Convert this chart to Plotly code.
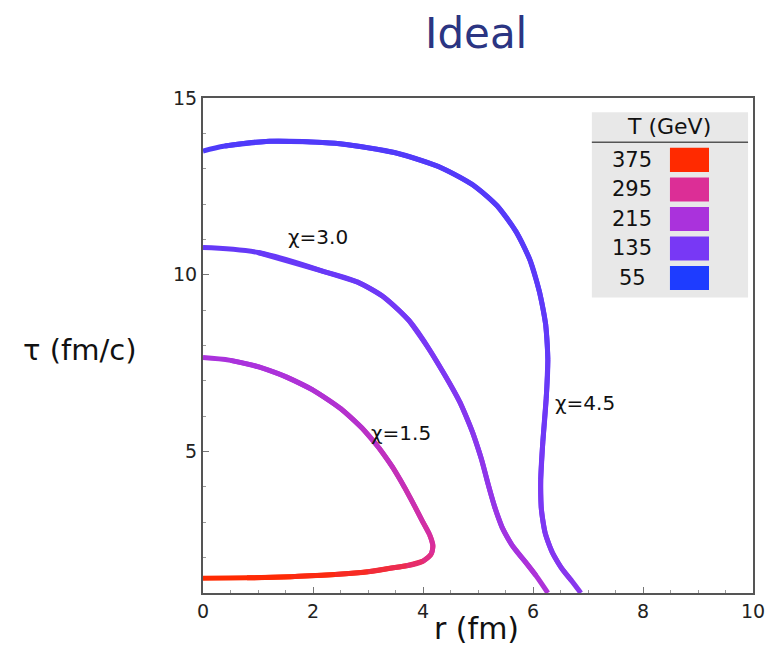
import plotly.graph_objects as go

# ---------------- data ----------------
legend_T = [375, 295, 215, 135, 55]
legend_colors = ["#ff2a00", "#dc2e96", "#aa32dc", "#7838f5", "#1e3cff"]

# chi = 1.5 contour (r, tau, T along curve)
r_15 = [0, 0.8, 1.6, 2.4, 3.0, 3.4, 3.7, 4.0, 4.15, 4.18, 4.12, 4.0, 3.85, 3.66, 3.45, 3.2, 2.9, 2.5, 2.0, 1.5, 1.0, 0.5, 0]
tau_15 = [1.42, 1.43, 1.46, 1.52, 1.60, 1.70, 1.77, 1.9, 2.1, 2.35, 2.65, 3.0, 3.45, 4.0, 4.55, 5.1, 5.65, 6.22, 6.74, 7.12, 7.4, 7.58, 7.66]
T_15 = [375, 374, 370, 362, 350, 338, 326, 310, 298, 290, 283, 276, 268, 260, 252, 244, 236, 229, 223, 219, 216, 215, 214]

# chi = 3.0 contour
r_30 = [0, 1.0, 2.2, 2.8, 3.27, 3.75, 4.13, 4.42, 4.67, 4.9, 5.06, 5.18, 5.3, 5.44, 5.62, 5.85, 6.05, 6.27]
tau_30 = [10.77, 10.63, 10.09, 9.8, 9.39, 8.7, 7.85, 7.1, 6.4, 5.55, 4.8, 4.1, 3.45, 2.85, 2.35, 1.9, 1.5, 1.0]
T_30 = [118, 119, 121, 124, 128, 133, 139, 146, 153, 160, 168, 176, 185, 195, 205, 215, 225, 235]

# chi = 4.5 contour
r_45 = [0, 0.4, 1.2, 2.4, 3.5, 4.3, 4.9, 5.35, 5.7, 5.95, 6.12, 6.23, 6.27, 6.24, 6.18, 6.14, 6.15, 6.22, 6.35, 6.52, 6.7, 6.87]
tau_45 = [13.5, 13.64, 13.78, 13.72, 13.45, 13.05, 12.55, 11.95, 11.2, 10.4, 9.5, 8.6, 7.6, 6.5, 5.3, 4.2, 3.4, 2.7, 2.15, 1.7, 1.35, 1.0]
T_45 = [98, 98, 99, 100, 101, 102, 103, 104, 106, 108, 110, 113, 117, 123, 129, 135, 140, 146, 152, 158, 164, 170]

curve_labels = ["χ=1.5", "χ=3.0", "χ=4.5"]
label_r = [3.6, 2.09, 6.95]
label_tau = [5.53, 11.08, 6.38]

x_ticks = [0, 2, 4, 6, 8, 10]
y_ticks = [5, 10, 15]


def hex_rgb(h):
    h = h.lstrip("#")
    return tuple(int(h[i:i + 2], 16) for i in (0, 2, 4))


def t_color(T):
    pairs = sorted(zip(legend_T, legend_colors))
    if T <= pairs[0][0]:
        return pairs[0][1]
    if T >= pairs[-1][0]:
        return pairs[-1][1]
    for (t0, c0), (t1, c1) in zip(pairs[:-1], pairs[1:]):
        if t0 <= T <= t1:
            f = (T - t0) / (t1 - t0)
            a, b = hex_rgb(c0), hex_rgb(c1)
            rgb = [round(a[k] + f * (b[k] - a[k])) for k in range(3)]
            return "rgb(%d,%d,%d)" % tuple(rgb)


fig = go.Figure()

# each curve drawn as overlapping 3-point spline pieces so the colour can
# follow the temperature while the library keeps the path smooth
for rs, ts, Ts in [(r_15, tau_15, T_15), (r_30, tau_30, T_30), (r_45, tau_45, T_45)]:
    n = len(rs)
    for i in range(n - 2):
        c = t_color(0.5 * (Ts[i] + Ts[i + 1]))
        fig.add_trace(go.Scatter(
            x=rs[i:i + 3], y=ts[i:i + 3],
            mode="lines",
            line=dict(color=c, width=5, shape="spline", smoothing=1.0),
            showlegend=False, hoverinfo="skip"))

FONT = "DejaVu Sans"

# curve labels
for txt, xr, yt in zip(curve_labels, label_r, label_tau):
    fig.add_annotation(x=xr, y=yt, text=txt, showarrow=False,
                       xanchor="center", yanchor="middle",
                       font=dict(family=FONT, size=20, color="#111"))

# legend box (T colour key)
box_x0, box_x1 = 7.07, 9.91
box_y0, box_y1 = 9.36, 14.6
fig.add_shape(type="rect", x0=box_x0, x1=box_x1, y0=box_y0, y1=box_y1,
              fillcolor="#e8e8e8", line=dict(width=0), layer="below")
fig.add_shape(type="line", x0=box_x0, x1=box_x1, y0=13.75, y1=13.75,
              line=dict(color="#555", width=1.5))
fig.add_annotation(x=8.47, y=14.18, text="T (GeV)", showarrow=False,
                   xanchor="center", yanchor="middle",
                   font=dict(family=FONT, size=22, color="#111"))
row0, pitch, half = 13.25, 0.835, 0.34
for k, (tv, col) in enumerate(zip(legend_T, legend_colors)):
    yc = row0 - k * pitch
    fig.add_shape(type="rect", x0=8.49, x1=9.2, y0=yc - half, y1=yc + half,
                  fillcolor=col, line=dict(width=0))
    fig.add_annotation(x=7.8, y=yc, text=str(tv), showarrow=False,
                       xanchor="center", yanchor="middle",
                       font=dict(family=FONT, size=21, color="#111"))

# titles
fig.add_annotation(xref="paper", yref="paper", x=0.496, y=1.131, text="Ideal",
                   showarrow=False, xanchor="center", yanchor="middle",
                   font=dict(family=FONT, size=42, color="#2b3582"))
fig.add_annotation(xref="paper", yref="paper", x=0.498, y=-0.072, text="r (fm)",
                   showarrow=False, xanchor="center", yanchor="middle",
                   font=dict(family=FONT, size=30, color="#111"))
fig.add_annotation(xref="paper", yref="paper", x=-0.224, y=0.491, text="τ (fm/c)",
                   showarrow=False, xanchor="center", yanchor="middle",
                   font=dict(family=FONT, size=29, color="#111"))

axis_common = dict(showgrid=False, zeroline=False, showline=True, mirror=True,
                   linecolor="#555", linewidth=2, ticks="inside", ticklen=6,
                   tickcolor="#777", tickwidth=1,
                   tickfont=dict(family=FONT, size=19, color="#222"))
fig.update_xaxes(range=[0, 10], tickvals=x_ticks,
                 minor=dict(ticks="inside", dtick=0.5, ticklen=3, tickcolor="#999"),
                 **axis_common)
fig.update_yaxes(range=[1, 15], tickvals=y_ticks,
                 minor=dict(ticks="inside", dtick=1, ticklen=3, tickcolor="#999"),
                 **axis_common)

fig.update_layout(width=784, height=668, margin=dict(l=203, r=31, t=98, b=75),
                  paper_bgcolor="white", plot_bgcolor="white")

fig.write_html("out.html")
